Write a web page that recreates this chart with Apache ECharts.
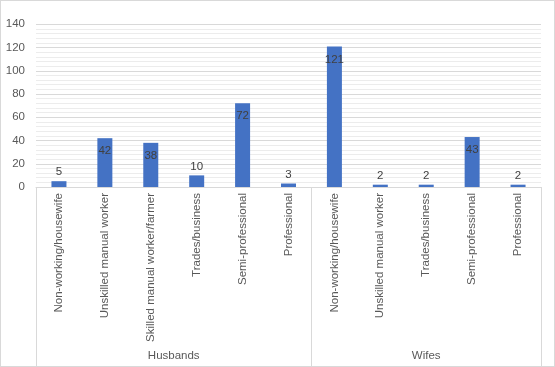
<!DOCTYPE html>
<html>
<head>
<meta charset="utf-8">
<script src="https://cdn.jsdelivr.net/npm/echarts@6/dist/echarts.min.js"></script>
<style>
  html, body { margin: 0; padding: 0; background: #fff; }
  #wrap { position: relative; width: 555px; height: 367px; }
  #chart { position: absolute; left: 0; top: 0; width: 555px; height: 367px; }
  #border { position: absolute; left: 0; top: 0; width: 555px; height: 367px; box-sizing: border-box; border: 1px solid #d9d9d9; pointer-events: none; }
</style>
</head>
<body>
<div id="wrap"><div id="chart"></div><div id="border"></div></div>
<script>
const categories = [
  'Non-working/housewife', 'Unskilled manual worker', 'Skilled manual worker/farmer',
  'Trades/business', 'Semi-professional', 'Professional',
  'Non-working/housewife', 'Unskilled manual worker', 'Trades/business',
  'Semi-professional', 'Professional'
];
const values = [5, 42, 38, 10, 72, 3, 121, 2, 2, 43, 2];
const groups = ['Husbands', 'Wifes'];
const groupSizes = [6, 5];
const yTicks = [0, 20, 40, 60, 80, 100, 120, 140];

const boundaries = [0];
groupSizes.forEach(s => boundaries.push(boundaries[boundaries.length - 1] + s));
const groupCenters = groupSizes.map((s, i) => boundaries[i] + s / 2);

const chart = echarts.init(document.getElementById('chart'), null, { renderer: 'canvas' });
const gridBottom = 180;
chart.setOption({
  animation: false,
  textStyle: { fontFamily: 'Liberation Sans, Arial, sans-serif' },
  grid: { left: 36, right: 14, top: 24.3, bottom: gridBottom, containLabel: false },
  xAxis: [
    {
      type: 'category',
      data: categories,
      axisLine: { show: true, lineStyle: { color: '#d9d9d9', width: 1 } },
      axisTick: { show: false },
      axisLabel: { rotate: 90, interval: 0, color: '#595959', fontSize: 11.5, margin: 6 },
      splitLine: { show: false }
    },
    {
      type: 'value',
      min: 0,
      max: categories.length,
      position: 'bottom',
      offset: gridBottom - 1,
      axisLine: { show: true, lineStyle: { color: '#d9d9d9', width: 1 } },
      axisTick: { show: true, inside: true, length: gridBottom - 1, customValues: boundaries, lineStyle: { color: '#d9d9d9', width: 1 } },
      axisLabel: {
        show: true, inside: true, margin: 4, color: '#595959', fontSize: 11.5,
        customValues: groupCenters,
        formatter: v => { const i = groupCenters.indexOf(v); return i >= 0 ? groups[i] : ''; }
      },
      splitLine: { show: false }
    }
  ],
  yAxis: {
    type: 'value',
    min: yTicks[0],
    max: yTicks[yTicks.length - 1],
    interval: yTicks[1] - yTicks[0],
    axisLine: { show: false },
    axisTick: { show: false },
    axisLabel: { color: '#595959', fontSize: 11.5, margin: 11 },
    splitLine: { lineStyle: { color: '#d9d9d9', width: 1 } },
    minorTick: { show: false, splitNumber: 5 },
    minorSplitLine: { show: true, lineStyle: { color: '#ececec', width: 1 } }
  },
  series: [{
    type: 'bar',
    xAxisIndex: 0,
    barWidth: 15,
    itemStyle: { color: '#4472C4' },
    data: values.map(v => ({
      value: v,
      label: { position: v >= 20 ? 'insideTop' : 'top', distance: v >= 20 ? 7 : 3 }
    })),
    label: { show: true, color: '#404040', fontSize: 11.5 }
  }]
});
</script>
</body>
</html>
